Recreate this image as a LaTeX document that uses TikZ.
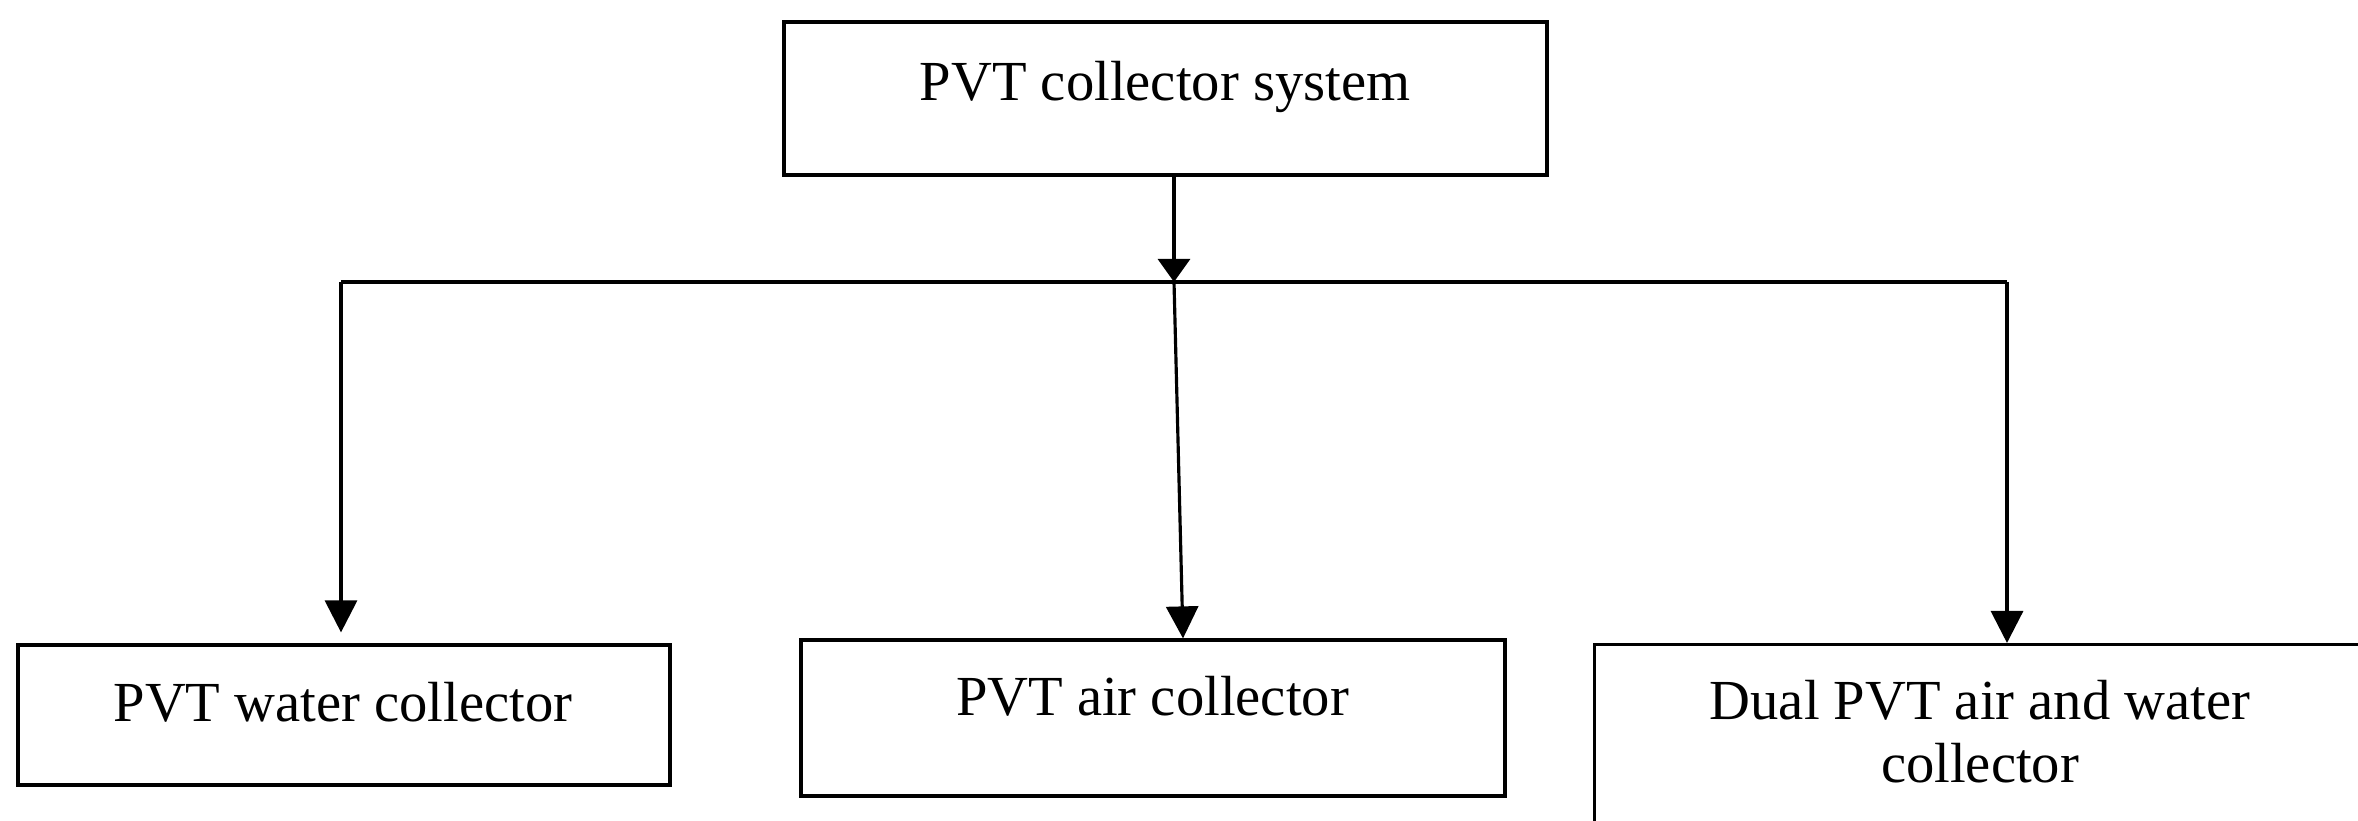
\documentclass[tikz,border=0pt]{standalone}
\usepackage{fontspec}
\setmainfont{Liberation Serif}
\usetikzlibrary{arrows.meta}

\begin{document}
\begin{tikzpicture}

\definecolor{lcolor}{HTML}{000000}

\tikzstyle{box}=[draw=lcolor, line width=0.9pt, rectangle, inner sep=0pt]
\tikzstyle{boxtext}=[anchor=base, inner sep=0pt, font=\fontsize{16.1}{18}\selectfont, align=center]
\tikzstyle{link}=[line width=0.9pt, color=lcolor]
\tikzstyle{hubarrow}=[link, -{Triangle[length=0.23cm, width=0.32cm]}]
\tikzstyle{leafarrow}=[link, -{Triangle[length=0.32cm, width=0.32cm]}]

\useasboundingbox (0,0) rectangle (23.58,8.21);
\clip (0,0) rectangle (23.58,8.21);

%\draw[help lines] (0,0) grid (24,9);

% boxes
\node[box, minimum width=7.63cm, minimum height=1.53cm] (sys) at (11.655, 7.225) {};
\node[box, minimum width=6.52cm, minimum height=1.40cm] (water) at (3.44, 1.06) {};
\node[box, minimum width=7.04cm, minimum height=1.56cm] (air) at (11.53, 1.03) {};
\node[box, minimum width=7.74cm, minimum height=1.90cm, anchor=north west] (dual) at (15.93, 1.78) {};

% texts
\node[boxtext] (systext) at (11.65, 7.20) {PVT collector system};
\node[boxtext] (watertext) at (3.43, 0.99) {PVT water collector};
\node[boxtext] (airtext) at (11.525, 1.05) {PVT air collector};
\node[boxtext] (dualtext) at (19.80, 0.38) {Dual PVT air and water\\collector};

% bus
\coordinate (hub) at (11.74, 5.39);
\coordinate (busl) at (3.41, 5.39);
\coordinate (busr) at (20.07, 5.39);

\draw [hubarrow] (hub |- sys.south) -- (hub);
\draw [link] (busl) -- (busr);
\draw [leafarrow] (busl) -- ([yshift=0.11cm]busl |- water.north);
\draw [leafarrow] (hub) -- ([xshift=0.30cm]air.north);
\draw [leafarrow] (busr) -- (busr |- dual.north);

\end{tikzpicture}
\end{document}
